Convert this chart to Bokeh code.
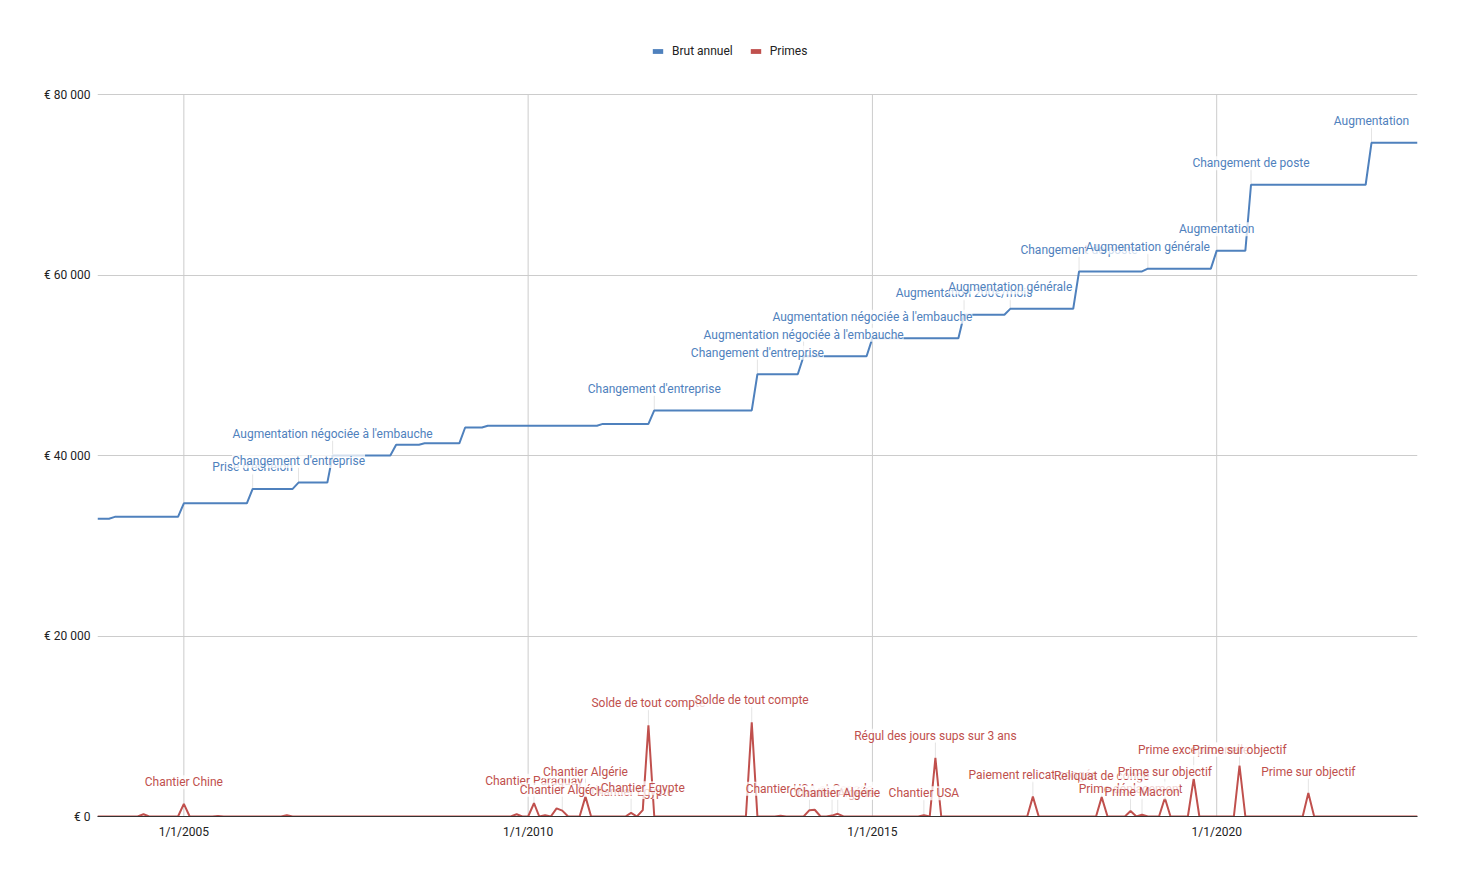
from datetime import datetime
import numpy as np
from bokeh.plotting import figure
from bokeh.models import (Range1d, FixedTicker, CustomJSTickFormatter, Legend,
                          LegendItem, ColumnDataSource)
from bokeh.core.properties import value
from bokeh.embed import file_html
from bokeh.resources import INLINE

# ---------------- data (monthly, from Oct 2003 to Dec 2022) ----------------
start_year, start_month = 2003, 10

brut_annuel = [
    # 2003 (oct-dec)
    33000, 33000, 33000,
    # 2004
    33200, 33200, 33200, 33200, 33200, 33200, 33200, 33200, 33200, 33200, 33200, 33200,
    # 2005
    34700, 34700, 34700, 34700, 34700, 34700, 34700, 34700, 34700, 34700, 34700, 34700,
    # 2006
    36300, 36300, 36300, 36300, 36300, 36300, 36300, 36300, 37000, 37000, 37000, 37000,
    # 2007
    37000, 37000, 40000, 40000, 40000, 40000, 40000, 40000, 40000, 40000, 40000, 40000,
    # 2008
    40000, 41200, 41200, 41200, 41200, 41200, 41350, 41350, 41350, 41350, 41350, 41350,
    # 2009
    41350, 43100, 43100, 43100, 43100, 43300, 43300, 43300, 43300, 43300, 43300, 43300,
    # 2010
    43300, 43300, 43300, 43300, 43300, 43300, 43300, 43300, 43300, 43300, 43300, 43300,
    # 2011
    43300, 43500, 43500, 43500, 43500, 43500, 43500, 43500, 43500, 43500, 45000, 45000,
    # 2012
    45000, 45000, 45000, 45000, 45000, 45000, 45000, 45000, 45000, 45000, 45000, 45000,
    # 2013
    45000, 45000, 45000, 45000, 49000, 49000, 49000, 49000, 49000, 49000, 49000, 49000,
    # 2014
    51000, 51000, 51000, 51000, 51000, 51000, 51000, 51000, 51000, 51000, 51000, 51000,
    # 2015
    53000, 53000, 53000, 53000, 53000, 53000, 53000, 53000, 53000, 53000, 53000, 53000,
    # 2016
    53000, 53000, 53000, 53000, 55600, 55600, 55600, 55600, 55600, 55600, 55600, 55600,
    # 2017
    56250, 56250, 56250, 56250, 56250, 56250, 56250, 56250, 56250, 56250, 56250, 56250,
    # 2018
    60400, 60400, 60400, 60400, 60400, 60400, 60400, 60400, 60400, 60400, 60400, 60400,
    # 2019
    60700, 60700, 60700, 60700, 60700, 60700, 60700, 60700, 60700, 60700, 60700, 60700,
    # 2020
    62700, 62700, 62700, 62700, 62700, 62700, 70000, 70000, 70000, 70000, 70000, 70000,
    # 2021
    70000, 70000, 70000, 70000, 70000, 70000, 70000, 70000, 70000, 70000, 70000, 70000,
    # 2022
    70000, 70000, 70000, 74650, 74650, 74650, 74650, 74650, 74650, 74650, 74650, 74650,
]

primes = [
    # 2003 (oct-dec)
    0, 0, 0,
    # 2004
    0, 0, 0, 0, 0, 250, 0, 0, 0, 0, 0, 0,
    # 2005
    1400, 0, 0, 0, 0, 0, 50, 0, 0, 0, 0, 0,
    # 2006
    0, 0, 0, 0, 0, 0, 150, 0, 0, 0, 0, 0,
    # 2007
    0, 0, 0, 0, 0, 0, 0, 0, 0, 0, 0, 0,
    # 2008
    0, 0, 0, 0, 0, 0, 0, 0, 0, 0, 0, 0,
    # 2009
    0, 0, 0, 0, 0, 0, 0, 0, 0, 0, 250, 0,
    # 2010
    0, 1470, 0, 150, 0, 900, 650, 0, 0, 0, 2200, 0,
    # 2011
    0, 0, 0, 0, 0, 0, 400, 0, 700, 10100, 0, 0,
    # 2012
    0, 0, 0, 0, 0, 0, 0, 0, 0, 0, 0, 0,
    # 2013
    0, 0, 0, 10450, 0, 0, 0, 0, 80, 0, 0, 0,
    # 2014
    0, 700, 750, 0, 0, 100, 300, 0, 0, 0, 0, 0,
    # 2015
    0, 0, 0, 0, 0, 0, 0, 0, 0, 150, 0, 6500,
    # 2016
    0, 0, 0, 0, 0, 0, 0, 0, 0, 0, 0, 0,
    # 2017
    0, 0, 0, 0, 2200, 0, 0, 0, 0, 0, 0, 0,
    # 2018
    0, 0, 0, 0, 2150, 0, 0, 0, 0, 600, 0, 200,
    # 2019
    0, 0, 0, 2050, 0, 0, 0, 0, 4200, 0, 0, 0,
    # 2020
    0, 0, 0, 0, 5650, 0, 0, 0, 0, 0, 0, 0,
    # 2021
    0, 0, 0, 0, 2600, 0, 0, 0, 0, 0, 0, 0,
    # 2022
    0, 0, 0, 0, 0, 0, 0, 0, 0, 0, 0, 0,
]

brut_annot_dates = ["2006-01", "2006-09", "2007-03", "2011-11", "2013-05", "2014-01",
                    "2015-01", "2016-05", "2017-01", "2018-01", "2019-01", "2020-01",
                    "2020-07", "2022-04"]
brut_annot_labels = ["Prise d'échelon", "Changement d'entreprise",
                     "Augmentation négociée à l'embauche", "Changement d'entreprise",
                     "Changement d'entreprise", "Augmentation négociée à l'embauche",
                     "Augmentation négociée à l'embauche", "Augmentation 200€/mois",
                     "Augmentation générale", "Changement de poste",
                     "Augmentation générale", "Augmentation", "Changement de poste",
                     "Augmentation"]

primes_annot_dates = ["2005-01", "2010-02", "2010-07", "2010-11", "2011-07", "2011-09",
                      "2011-10", "2013-04", "2014-02", "2014-06", "2014-07", "2015-10",
                      "2015-12", "2017-05", "2018-05", "2018-10", "2018-12", "2019-04",
                      "2019-09", "2020-05", "2021-05"]
primes_annot_labels = ["Chantier Chine", "Chantier Paraguay", "Chantier Algérie",
                       "Chantier Algérie", "Chantier Egypte", "Chantier Egypte",
                       "Solde de tout compte", "Solde de tout compte",
                       "Chantier USA et Canada", "Chantier Algérie", "Chantier Algérie",
                       "Chantier USA", "Régul des jours sups sur 3 ans",
                       "Paiement relicat congés", "Reliquat de congé",
                       "Prime déplacement", "Prime Macron", "Prime sur objectif",
                       "Prime exceptionnelle", "Prime sur objectif", "Prime sur objectif"]

y_ticks = [0, 20000, 40000, 60000, 80000]
x_tick_years = [2005, 2010, 2015, 2020]

# ---------------- styling / geometry ----------------
BLUE = "#4f81bd"
RED = "#c0504d"
FONT = "Roboto"
brut_label_offsets = [-21.5] * len(brut_annot_labels)
primes_label_offsets = [-21.5, -22.5, -21, -25, -21, -22, -22, -22, -21.5, -23, -21,
                        -22, -22, -21.5, -21, -22.5, -22.5, -26, -29, -16, -21]

W, H = 1446, 865
FRAME_L, FRAME_R = 97, 1417          # pixel edges of the plotting area
FRAME_TOP, AXIS_TOP_PX, FRAME_BOTTOM = 20, 94, 816   # 80 000 sits at AXIS_TOP_PX
Y_MAX = y_ticks[-1]
y_end = Y_MAX * (FRAME_BOTTOM - FRAME_TOP) / (FRAME_BOTTOM - AXIS_TOP_PX)

# ---------------- build ----------------
def month_date(i):
    k = start_month - 1 + i
    return datetime(start_year + k // 12, k % 12 + 1, 1)

def index_of(s):
    y, m = s.split("-")
    return (int(y) - start_year) * 12 + int(m) - start_month

dates = [month_date(i) for i in range(len(brut_annuel))]

p = figure(width=W, height=H, x_axis_type="datetime",
           output_backend="svg", toolbar_location=None,
           x_range=Range1d(datetime(2003, 10, 1), datetime(2022, 12, 1)),
           y_range=Range1d(0, y_end),
           min_border_left=FRAME_L, min_border_right=W - FRAME_R,
           min_border_top=FRAME_TOP, min_border_bottom=H - FRAME_BOTTOM)
p.outline_line_color = None
p.background_fill_color = "white"

# vertical grid lines limited to the value range
tick_dates = [datetime(y, 1, 1) for y in x_tick_years]
p.xgrid.visible = False
p.segment(x0=tick_dates, x1=tick_dates, y0=[0] * len(tick_dates),
          y1=[Y_MAX] * len(tick_dates), line_color="#cccccc", line_width=1)

def annot_source(adates, labels, series, offsets):
    idx = [index_of(d) for d in adates]
    return ColumnDataSource(dict(
        x=[dates[i] for i in idx],
        y=[series[i] for i in idx],
        text=labels,
        off=offsets,
        lead=[abs(o) - 6 for o in offsets],
    ))

src_b = annot_source(brut_annot_dates, brut_annot_labels, brut_annuel, brut_label_offsets)
src_r = annot_source(primes_annot_dates, primes_annot_labels, primes, primes_label_offsets)

for src in (src_b, src_r):
    p.ray(x="x", y="y", length="lead", length_units="screen", angle=np.pi / 2,
          line_color="#e4e4e4", line_width=1, source=src)

p.line(dates, brut_annuel, line_color=BLUE, line_width=2)
p.line(dates, primes, line_color=RED, line_width=2)

for src, col in ((src_r, RED), (src_b, BLUE)):
    p.text(x="x", y="y", text="text", y_offset="off", source=src,
           text_font=value(FONT), text_font_size="12px", text_color=col,
           text_align="center", text_baseline="middle",
           background_fill_color="white", background_fill_alpha=0.75)

# axes
p.yaxis.ticker = FixedTicker(ticks=y_ticks)
p.yaxis.formatter = CustomJSTickFormatter(code="""
    const s = Math.round(tick).toString().replace(/\\B(?=(\\d{3})+(?!\\d))/g, ' ');
    return '€ ' + s;
""")
p.xaxis.ticker = FixedTicker(ticks=[(d - datetime(1970, 1, 1)).total_seconds() * 1000
                                    for d in tick_dates])
p.xaxis.formatter = CustomJSTickFormatter(code="""
    const d = new Date(tick);
    return (d.getUTCMonth() + 1) + '/' + d.getUTCDate() + '/' + d.getUTCFullYear();
""")
for ax in (p.xaxis, p.yaxis):
    ax.major_tick_line_color = None
    ax.minor_tick_line_color = None
    ax.major_tick_out = 0
    ax.major_tick_in = 0
    ax.minor_tick_out = 0
    ax.major_label_text_font = FONT
    ax.major_label_text_font_size = "12px"
    ax.major_label_text_color = "#222222"
p.yaxis.axis_line_color = None
p.yaxis.major_label_standoff = 7
p.xaxis.axis_line_color = "#333333"
p.xaxis.major_label_standoff = 8
p.ygrid.grid_line_color = "#cccccc"

# legend (swatch renderers hold a single NaN row so nothing is drawn in the plot)
nan = float("nan")
lb = p.quad(left=[nan], right=[nan], top=[nan], bottom=[nan], fill_color=BLUE, line_color=None)
lr = p.quad(left=[nan], right=[nan], top=[nan], bottom=[nan], fill_color=RED, line_color=None)
legend = Legend(items=[LegendItem(label="Brut annuel", renderers=[lb]),
                       LegendItem(label="Primes", renderers=[lr])],
                orientation="horizontal",
                location=(651 - FRAME_L, FRAME_BOTTOM - 58),
                padding=0, margin=0, spacing=16, label_standoff=8,
                glyph_width=13, glyph_height=6, label_height=14,
                label_text_font=FONT, label_text_font_size="12px",
                label_text_color="#222222",
                border_line_color=None, background_fill_alpha=0)
p.add_layout(legend)

open("out.html", "w").write(file_html(p, INLINE))
